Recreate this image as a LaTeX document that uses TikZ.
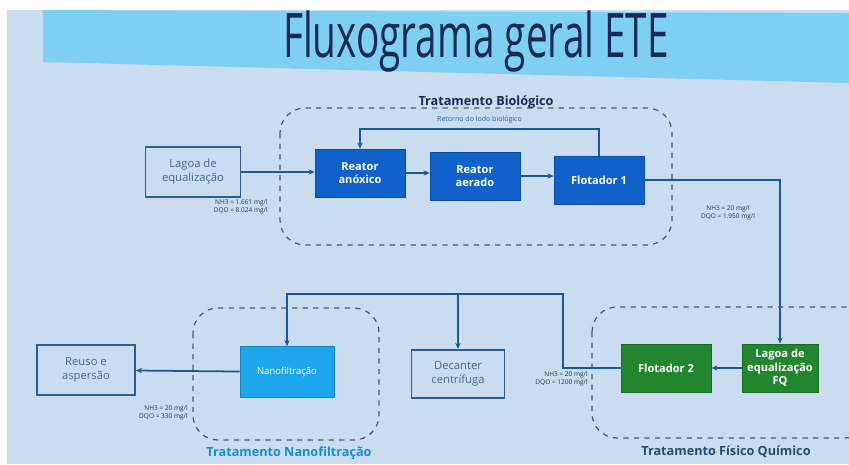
\documentclass[tikz,border=0pt]{standalone}
\usepackage{fontspec}
\setmainfont{Open Sans}
\usepackage{xcolor}
\usepackage{tikz}
\usetikzlibrary{positioning,calc,arrows.meta}

\definecolor{slide}{HTML}{C9DCF0}
\definecolor{band}{HTML}{7DD0F2}
\definecolor{navy}{HTML}{1B2A55}
\definecolor{wire}{HTML}{1D5896}
\definecolor{bio}{HTML}{1061CA}
\definecolor{fq}{HTML}{22862E}
\definecolor{nano}{HTML}{1DA6EE}
\definecolor{plain}{HTML}{2F5E8C}
\definecolor{grayline}{HTML}{505868}

\begin{document}
\begin{tikzpicture}[x=0.02cm,y=-0.02cm,
  proc/.style={draw=#1!80!black,fill=#1,text=white,font=\fontsize{6.3}{7.8}\selectfont\bfseries,
    align=center,minimum width=1.8cm,minimum height=0.96cm,inner sep=1pt},
  ext/.style={draw=plain,line width=1pt,text=plain!70!gray,font=\fontsize{6.4}{8}\selectfont,
    align=center,minimum width=1.9cm,minimum height=1cm,inner sep=1pt},
  zone/.style={draw=grayline,dashed,line width=0.7pt,rounded corners=0.5cm},
  flow/.style={draw=wire,line width=1pt,-{Stealth[length=3.5pt,width=3pt]}},
  conc/.style={font=\fontsize{3.7}{4.6}\selectfont,text=plain!60!black,align=right,inner sep=0pt},
  zonetitle/.style={font=\fontsize{7.2}{8}\selectfont\bfseries,text=#1}]

\useasboundingbox (0,0) rectangle (849,464);
\fill[white] (0,0) rectangle (849,464);
\fill[slide] (7,10) rectangle (849,464);
\fill[band] (43,10) -- (849,13) -- (849,83) -- (43,62) -- cycle;
\node[text=navy] (title) at (476,42) {\scalebox{0.63}[1]{\fontsize{35}{40}\selectfont Fluxograma geral ETE}};

\draw[zone] (280,108) rectangle (672,245);
\draw[zone] (193,308) rectangle (379,440);
\draw[zone] (592,307) rectangle (870,438);
\node[zonetitle=navy] (tbio) at (486,102) {Tratamento Biológico};
\node[zonetitle=nano!85!black] (tnano) at (289,453) {Tratamento Nanofiltração};
\node[zonetitle=plain!80!black] (tfq) at (726,452) {Tratamento Físico Químico};

\node[ext] (lagoa) at (193,172) {Lagoa de\\equalização};
\node[proc=bio] (anox) at (360,173) {Reator\\anóxico};
\node[proc=bio] (aer) at (475,176) {Reator\\aerado};
\node[proc=bio] (flot1) at (599,180) {Flotador 1};

\node[proc=fq,minimum width=1.52cm] (lagfq) at (780,368) {Lagoa de\\equalização\\FQ};
\node[proc=fq] (flot2) at (666,368) {Flotador 2};
\node[ext,minimum width=1.86cm,minimum height=0.96cm] (dec) at (458,374) {Decanter\\centrífuga};
\node[proc=nano,font=\fontsize{5.4}{6.5}\selectfont,minimum width=1.88cm,minimum height=1.02cm] (nanof) at (287,372) {Nanofiltração};
\node[ext,minimum width=1.96cm] (reuso) at (86,370) {Reuso e\\aspersão};

\node[conc,anchor=north east] (c1) at (268,199) {NH3 = 1.661 mg/l\\DQO = 8.024 mg/l};
\node[conc,align=center] (c2) at (728,213) {NH3 = 20 mg/l\\DQO = 1.950 mg/l};
\node[conc,anchor=north east] (c3) at (588,371) {NH3 = 20 mg/l\\DQO = 1200 mg/l};
\node[conc,anchor=north east] (c4) at (188,405) {NH3 = 20 mg/l\\DQO = 330 mg/l};

\coordinate (bend) at (563,294);

\draw[flow] (lagoa) -- (lagoa -| anox.west);
\draw[flow] (anox) -- (anox -| aer.west);
\draw[flow] (aer.east) -- (aer.east -| flot1.west);
\draw[flow] (flot1.north) -- ++(0,-27) -| (anox.north)
  node[pos=0.25,above=-0.5pt,font=\fontsize{4}{5}\selectfont,text=plain] {Retorno do lodo biológico};
\draw[flow] (flot1.east) -| (lagfq.north);
\draw[flow] (lagfq) -- (flot2);
\draw[flow] (flot2.west) -| (bend) -| (nanof.north);
\draw[flow] (dec.north |- bend) -- (dec.north);
\draw[flow] (nanof) -- (reuso);
\end{tikzpicture}
\end{document}
